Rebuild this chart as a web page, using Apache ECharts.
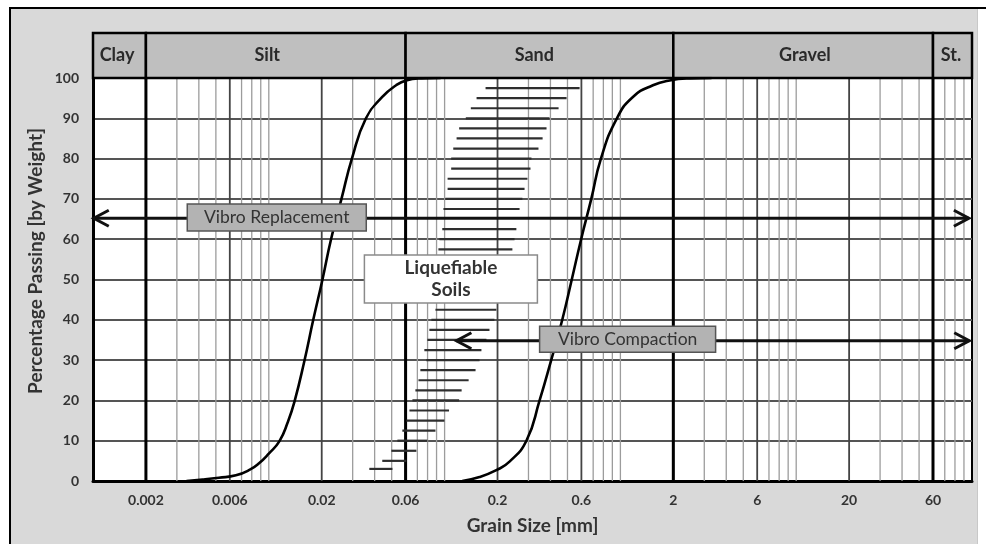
<!DOCTYPE html>
<html>
<head>
<meta charset="utf-8">
<script src="https://cdn.jsdelivr.net/npm/echarts@6/dist/echarts.min.js"></script>
<style>
html,body{margin:0;padding:0;background:#fff;}
#frameTop{position:absolute;left:9px;top:7px;width:977px;height:2px;background:#000;}
#frameBg{position:absolute;left:9px;top:7px;width:966px;height:537px;background:#d9d9d9;border-left:2px solid #000;border-right:1px solid #c8c8c8;}
#c{position:absolute;left:0;top:0;width:986px;height:544px;}
</style>
</head>
<body>
<div id="frameBg"></div>
<div id="frameTop"></div>
<div id="c"></div>
<script>
// ---------------- data ----------------
const soilClasses = ['Clay', 'Silt', 'Sand', 'Gravel', 'St.'];
const soilBounds = [0.001, 0.002, 0.06, 2, 60, 100];
const soilLabelMm = [0.00137, 0.0098, 0.324, 11.2, 75.9];

const xTickValues = [0.002, 0.006, 0.02, 0.06, 0.2, 0.6, 2, 6, 20, 60];
const xTickLabels = ['0.002', '0.006', '0.02', '0.06', '0.2', '0.6', '2', '6', '20', '60'];
const minorGridValues = [0.003, 0.004, 0.005, 0.007, 0.008, 0.009, 0.01,
  0.03, 0.04, 0.05, 0.07, 0.08, 0.09, 0.1,
  0.3, 0.4, 0.5, 0.7, 0.8, 0.9, 1,
  3, 4, 5, 7, 8, 9, 10,
  30, 40, 50, 70, 80, 90];
const boundaryValues = [0.002, 0.06, 2, 60];

const fineCurveMm = [0.0034, 0.0042, 0.0052, 0.0065, 0.0078, 0.0088, 0.0100, 0.0115, 0.0128, 0.0140, 0.0159, 0.0179, 0.0202, 0.0226, 0.0259, 0.0297, 0.0357, 0.0442, 0.0530, 0.0604, 0.0740, 0.0950];
const fineCurvePct = [0, 0.35, 0.8, 1.4, 2.8, 4.4, 6.8, 9.9, 14.5, 19.7, 29.6, 40, 50, 60, 70, 80, 90, 95.3, 98.2, 99.4, 99.9, 100];

const coarseCurveMm = [0.126, 0.158, 0.197, 0.234, 0.292, 0.347, 0.404, 0.467, 0.529, 0.598, 0.683, 0.775, 0.955, 1.178, 1.531, 1.905, 2.5, 3.3];
const coarseCurvePct = [0, 1, 2.7, 4.8, 10, 20, 30, 40, 50, 60, 70, 80, 90, 95.3, 98.2, 99.4, 99.9, 100];

const hatchPct = [97.5, 95, 92.5, 90, 87.5, 85, 82.5, 80, 77.5, 75, 72.5, 70, 67.5, 62.5, 60, 57.5,
  42.5, 40, 37.5, 35, 32.5, 30, 27.5, 25, 22.5, 20, 17.5, 15, 12.5, 10, 7.5, 5, 3];
const hatchFromMm = [0.171, 0.152, 0.141, 0.132, 0.121, 0.117, 0.112, 0.109, 0.109, 0.104, 0.104, 0.101, 0.0985, 0.097, 0.0934, 0.0922,
  0.0887, 0.0841, 0.0819, 0.0798, 0.0767, 0.0787, 0.0728, 0.071, 0.0682, 0.0656, 0.0631, 0.0606, 0.0575, 0.0539, 0.0498, 0.0442, 0.0373];
const hatchToMm = [0.586, 0.494, 0.445, 0.395, 0.380, 0.361, 0.342, 0.312, 0.308, 0.296, 0.285, 0.277, 0.267, 0.256, 0.250, 0.243,
  0.197, 0.192, 0.180, 0.173, 0.162, 0.158, 0.150, 0.137, 0.125, 0.121, 0.106, 0.0998, 0.0887, 0.0798, 0.0691, 0.0606, 0.0505];

const arrowNames = ['Vibro Replacement', 'Vibro Compaction'];
const arrowFromMm = [0.00101, 0.1167];
const arrowToMm = [96, 96.5];
const arrowPct = [65.2, 34.8];

const boxTexts = ['Vibro Replacement', 'Vibro Compaction', 'Liquefiable\nSoils'];
const boxMm = [0.0111, 1.099, 0.1086];
const boxPct = [65.4, 35.2, 50.1];

// ---------------- styles ----------------
const FONT = 'Lato, "Open Sans", sans-serif';
const boxSizes = [[179, 27], [176, 26], [173, 48]];
const boxFills = ['#b3b3b3', '#b3b3b3', '#ffffff'];
const boxStrokes = ['#555', '#555', '#8a8a8a'];
const boxWeights = ['normal', 'normal', 'bold'];
const boxFontSizes = [17.5, 17.5, 19];

function vLineRender(color, width) {
  return function (params, api) {
    const v = api.value(0);
    const a = api.coord([v, 100]);
    const b = api.coord([v, 0]);
    return { type: 'line', shape: { x1: a[0], y1: a[1], x2: b[0], y2: b[1] }, style: { stroke: color, lineWidth: width } };
  };
}

const chart = echarts.init(document.getElementById('c'), null, { renderer: 'canvas' });

const option = {
  animation: false,
  backgroundColor: 'transparent',
  grid: [
    { left: 93, right: 14, top: 78, bottom: 63, show: true, backgroundColor: '#fff', borderColor: '#000', borderWidth: 2 },
    { left: 93, right: 14, top: 33, height: 45, show: true, backgroundColor: '#bfbfbf', borderColor: '#000', borderWidth: 2 }
  ],
  xAxis: [
    {
      type: 'log', logBase: 10, min: 0.001, max: 100, gridIndex: 0,
      axisLine: { show: true, lineStyle: { color: '#000', width: 3 } },
      axisTick: { show: false }, axisLabel: { show: false }, splitLine: { show: false },
      name: 'Grain Size [mm]', nameLocation: 'middle', nameGap: 35,
      nameTextStyle: { fontFamily: FONT, fontSize: 19, fontWeight: 'bold', color: '#333' }
    },
    {
      type: 'log', logBase: 10, min: 0.001, max: 100, gridIndex: 1, show: false
    }
  ],
  yAxis: [
    {
      type: 'value', min: 0, max: 100, interval: 10, gridIndex: 0,
      axisLine: { show: true, lineStyle: { color: '#000', width: 3 } },
      axisTick: { show: false },
      axisLabel: { margin: 14, fontFamily: FONT, fontSize: 14, fontWeight: 'bold', color: '#333' },
      splitLine: { show: true, lineStyle: { color: '#555', width: 2 } }
    },
    { type: 'value', min: 0, max: 1, gridIndex: 1, show: false }
  ],
  graphic: [
    {
      type: 'text', x: 36, y: 261, rotation: Math.PI / 2,
      style: { text: 'Percentage Passing [by Weight]', fontFamily: FONT, fontSize: 19, fontWeight: 'bold', fill: '#333', align: 'center', verticalAlign: 'middle' }
    }
  ],
  series: [
    // header band
    {
      type: 'custom', xAxisIndex: 1, yAxisIndex: 1, silent: true, z: 2,
      data: soilClasses.map((n, i) => [soilBounds[i], 0, soilBounds[i + 1], soilLabelMm[i]]),
      renderItem: function (params, api) {
        const a = api.coord([api.value(0), 1]);
        const b = api.coord([api.value(2), 0]);
        const c = api.coord([api.value(3), 0.5]);
        return {
          type: 'group', children: [
            { type: 'rect', shape: { x: a[0], y: a[1], width: b[0] - a[0], height: b[1] - a[1] }, style: { fill: '#bfbfbf', stroke: '#000', lineWidth: 2.5 } },
            { type: 'text', x: c[0], y: c[1], style: { text: soilClasses[params.dataIndex], fontFamily: FONT, fontSize: 18, fontWeight: 'bold', fill: '#2a2a2a', align: 'center', verticalAlign: 'middle' } }
          ]
        };
      }
    },
    // minor vertical grid
    {
      type: 'custom', silent: true, z: 1,
      data: minorGridValues.map(v => [v, 50]),
      renderItem: vLineRender('#9c9c9c', 1.3)
    },
    // labelled vertical grid
    {
      type: 'custom', silent: true, z: 1,
      data: xTickValues.map(v => [v, 50]),
      renderItem: vLineRender('#444', 1.8)
    },
    // soil boundaries
    {
      type: 'custom', silent: true, z: 2,
      data: boundaryValues.map(v => [v, 50]),
      renderItem: vLineRender('#000', 3)
    },
    // x tick labels
    {
      type: 'custom', silent: true, z: 2,
      data: xTickValues.map(v => [v, 0]),
      renderItem: function (params, api) {
        const p = api.coord([api.value(0), 0]);
        return { type: 'text', x: p[0], y: p[1] + 19, style: { text: xTickLabels[params.dataIndex], fontFamily: FONT, fontSize: 14, fontWeight: 'bold', fill: '#333', align: 'center', verticalAlign: 'middle' } };
      }
    },
    // liquefiable hatching
    {
      type: 'custom', silent: true, z: 3,
      data: hatchPct.map((p, i) => [hatchFromMm[i], p, hatchToMm[i]]),
      renderItem: function (params, api) {
        const a = api.coord([api.value(0), api.value(1)]);
        const b = api.coord([api.value(2), api.value(1)]);
        return { type: 'line', shape: { x1: a[0], y1: a[1], x2: b[0], y2: b[1] }, style: { stroke: '#2e2e2e', lineWidth: 2.2 } };
      }
    },
    // curves
    {
      type: 'line', name: 'fine', data: fineCurveMm.map((m, i) => [m, fineCurvePct[i]]),
      smooth: 0.5, showSymbol: false, symbol: 'none', z: 4,
      lineStyle: { color: '#000', width: 2.6 }, silent: true
    },
    {
      type: 'line', name: 'coarse', data: coarseCurveMm.map((m, i) => [m, coarseCurvePct[i]]),
      smooth: 0.5, showSymbol: false, symbol: 'none', z: 4,
      lineStyle: { color: '#000', width: 2.6 }, silent: true
    },
    // arrows
    {
      type: 'custom', silent: true, z: 5,
      data: arrowNames.map((n, i) => [arrowFromMm[i], arrowPct[i], arrowToMm[i]]),
      renderItem: function (params, api) {
        const a = api.coord([api.value(0), api.value(1)]);
        const b = api.coord([api.value(2), api.value(1)]);
        const w = 15, h = 8;
        const st = { stroke: '#111', lineWidth: 3, fill: null };
        return {
          type: 'group', children: [
            { type: 'line', shape: { x1: a[0], y1: a[1], x2: b[0], y2: b[1] }, style: st },
            { type: 'polyline', shape: { points: [[a[0] + w, a[1] - h], [a[0], a[1]], [a[0] + w, a[1] + h]] }, style: st },
            { type: 'polyline', shape: { points: [[b[0] - w, b[1] - h], [b[0], b[1]], [b[0] - w, b[1] + h]] }, style: st }
          ]
        };
      }
    },
    // label boxes
    {
      type: 'custom', silent: true, z: 6,
      data: boxTexts.map((t, i) => [boxMm[i], boxPct[i]]),
      renderItem: function (params, api) {
        const i = params.dataIndex;
        const c = api.coord([api.value(0), api.value(1)]);
        const s = boxSizes[i];
        return {
          type: 'group', children: [
            { type: 'rect', shape: { x: c[0] - s[0] / 2, y: c[1] - s[1] / 2, width: s[0], height: s[1] }, style: { fill: boxFills[i], stroke: boxStrokes[i], lineWidth: 1.5 } },
            { type: 'text', x: c[0], y: c[1], style: { text: boxTexts[i], fontFamily: FONT, fontSize: boxFontSizes[i], fontWeight: boxWeights[i], fill: '#333', align: 'center', verticalAlign: 'middle', lineHeight: 22 } }
          ]
        };
      }
    }
  ]
};
chart.setOption(option);
</script>
</body>
</html>
